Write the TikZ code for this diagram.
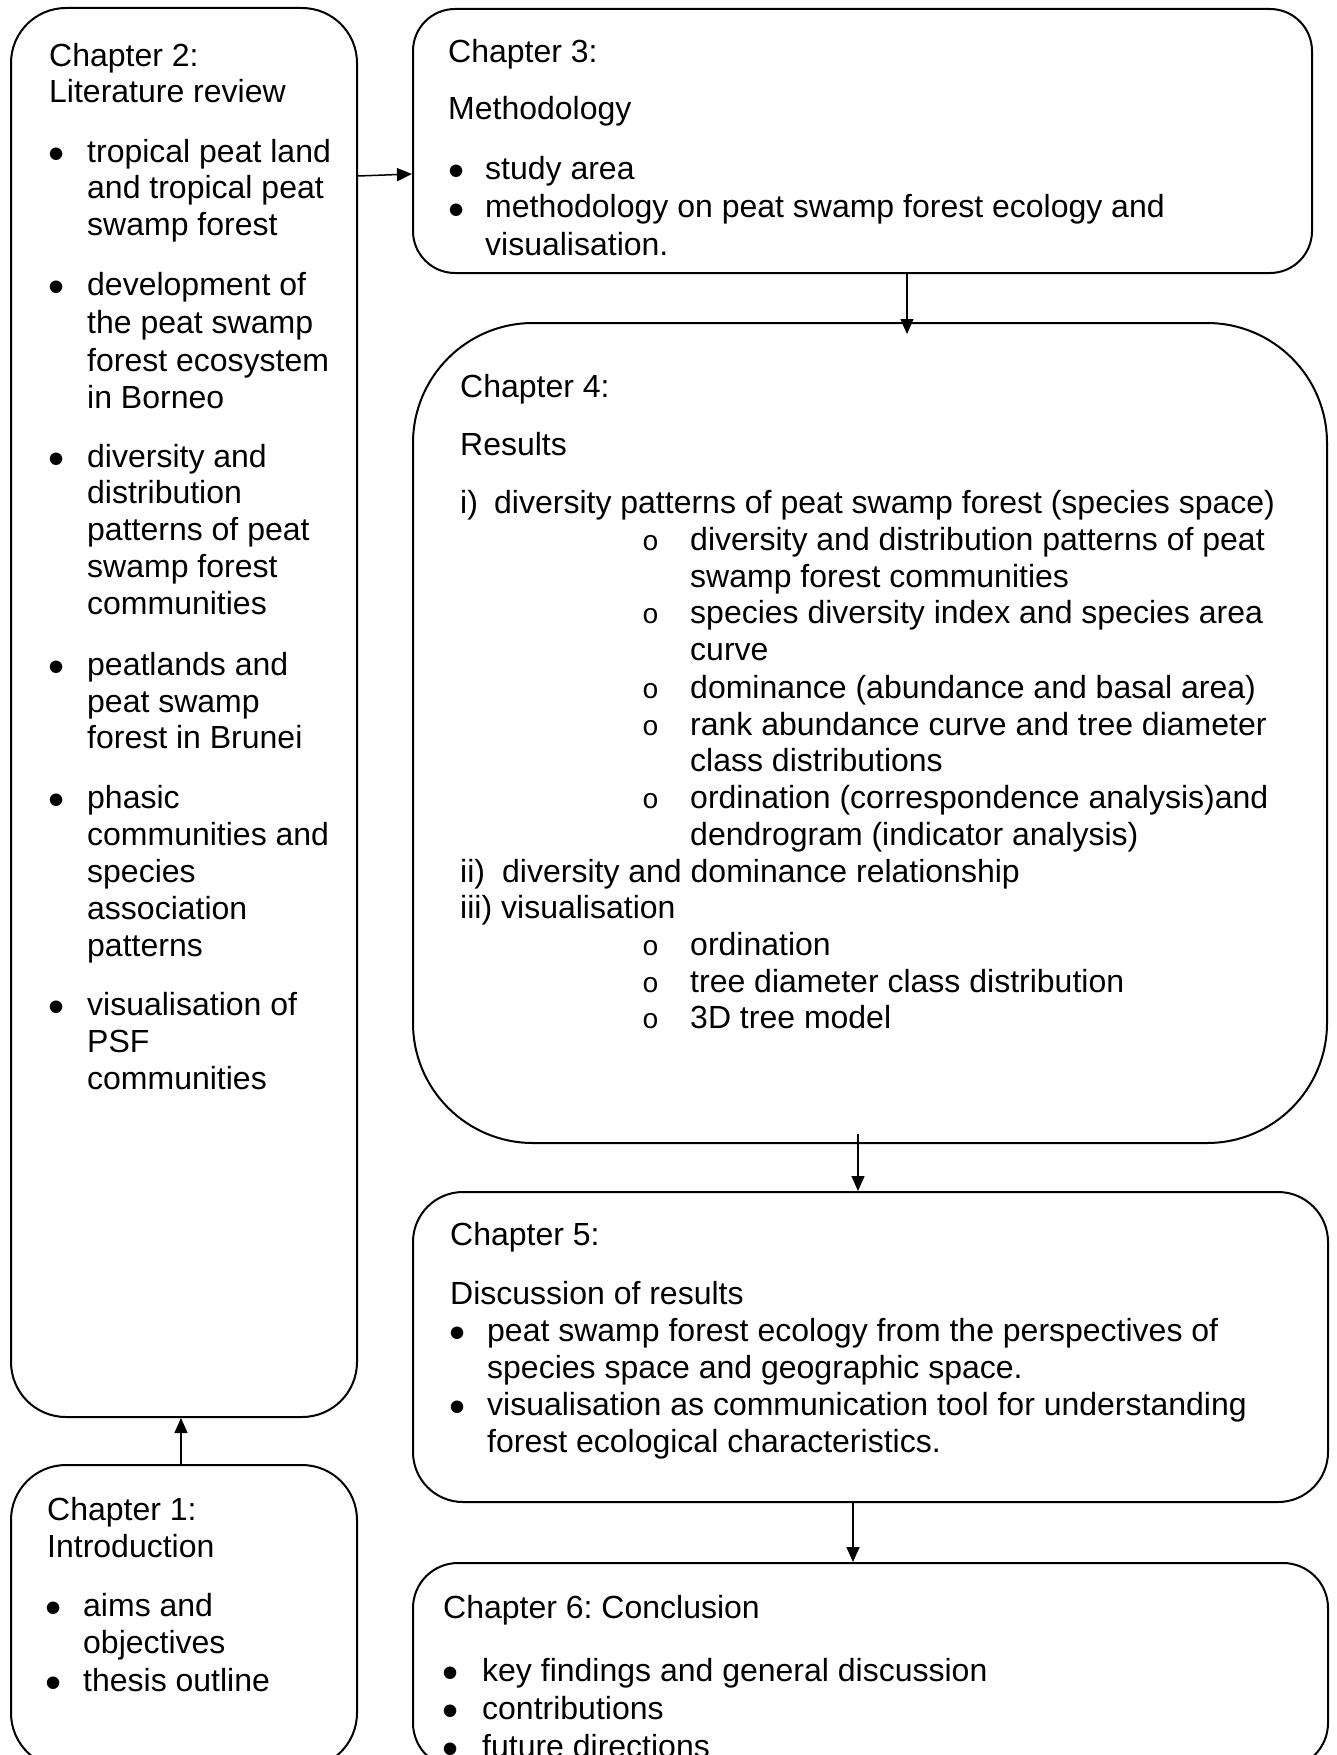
\documentclass[tikz,border=0pt]{standalone}
\usepackage{fontspec}
\setmainfont{Liberation Sans}
\newfontfamily\ofont{Liberation Mono}
\usetikzlibrary{arrows.meta}
\begin{document}
\frenchspacing
\begin{tikzpicture}[x=1pt,y=-1pt,
  box/.style={draw, line width=2pt, rectangle, inner sep=0pt},
  txt/.style={anchor=base west, inner sep=0pt, font=\fontsize{32}{37}\selectfont\frenchspacing},
  bul/.style={anchor=base west, inner sep=0pt, font=\fontsize{46}{46}\selectfont},
  sub/.style={anchor=base west, inner sep=0pt, font=\ofont\fontsize{28}{28}\selectfont},
  arr/.style={line width=1.5pt, -{Triangle[length=15pt,width=13pt]}}]
\useasboundingbox (0,0) rectangle (1336,1755);
\fill[white] (0,0) rectangle (1336,1755);
\clip (0,0) rectangle (1336,1755);

% boxes
\node[box, rounded corners=55pt, minimum width=346pt, minimum height=1409pt] (ch2) at (184,712.5) {};
\node[box, rounded corners=55pt, minimum width=346pt, minimum height=303pt] (ch1) at (184,1616.5) {};
\node[box, rounded corners=42pt, minimum width=899pt, minimum height=264pt] (ch3) at (862.5,141) {};
\node[box, rounded corners=120pt, minimum width=914pt, minimum height=820pt] (ch4) at (870,733) {};
\node[box, rounded corners=50pt, minimum width=915pt, minimum height=310pt] (ch5) at (870.5,1347) {};
\node[box, rounded corners=45pt, minimum width=915pt, minimum height=205pt] (ch6) at (870.5,1665.5) {};

% connectors
\draw[arr] ([yshift=-169pt]ch2.north east) -- ([yshift=-166pt]ch3.north west);
\draw[arr] ([xshift=44.5pt]ch3.south) -- ([xshift=37pt,yshift=-12pt]ch4.north);
\draw[arr] ([xshift=-12pt,yshift=10pt]ch4.south) -- ([xshift=-12.5pt]ch5.north);
\draw[arr] ([xshift=-17.5pt]ch5.south) -- ([xshift=-17.5pt]ch6.north);
\draw[arr] ([xshift=-3pt]ch1.north) -- ([xshift=-3pt]ch2.south);

% Chapter 2
\node[txt] (c2h1) at (49,67) {Chapter 2:};
\node[txt] (c2h2) at (49,103) {Literature review};
\foreach \yy [count=\i] in {163,295,467,675,808,1015}
  \node[bul] (c2b\i) at (48,\yy+7) {•};
\foreach \yy/\tt [count=\i] in {163/tropical peat land, 199/and tropical peat, 235/swamp forest,
  295/development of, 333/the peat swamp, 371/forest ecosystem, 408/in Borneo,
  467/diversity and, 503/distribution, 540/patterns of peat, 577/swamp forest, 614/communities,
  675/peatlands and, 712/peat swamp, 748/forest in Brunei,
  808/phasic, 845/communities and, 882/species, 919/association, 956/patterns,
  1015/visualisation of, 1052/PSF, 1089/communities}
  \node[txt] (c2l\i) at (87,\yy) {\tt};

% Chapter 1
\node[txt] (c1h1) at (47,1520) {Chapter 1:};
\node[txt] (c1h2) at (47,1557) {Introduction};
\node[bul] (c1b1) at (45,1623) {•};
\node[bul] (c1b2) at (45,1698) {•};
\node[txt] (c1l1) at (83,1616) {aims and};
\node[txt] (c1l2) at (83,1653) {objectives};
\node[txt] (c1l3) at (83,1691) {thesis outline};

% Chapter 3
\node[txt] (c3h1) at (448,63) {Chapter 3:};
\node[txt] (c3h2) at (448,120) {Methodology};
\node[bul] (c3b1) at (448,187) {•};
\node[bul] (c3b2) at (448,225) {•};
\node[txt] (c3l1) at (485,180) {study area};
\node[txt] (c3l2) at (485,218) {methodology on peat swamp forest ecology and};
\node[txt] (c3l3) at (485,255) {visualisation.};

% Chapter 4
\node[txt] (c4h1) at (460,397) {Chapter 4:};
\node[txt] (c4h2) at (460,455) {Results};
\node[txt] (c4n1) at (460,513) {i)};
\node[txt] (c4t1) at (494,513) {diversity patterns of peat swamp forest (species space)};
\node[txt] (c4n2) at (460,882) {ii)};
\node[txt] (c4t2) at (502,882) {diversity and dominance relationship};
\node[txt] (c4n3) at (460,918) {iii)};
\node[txt] (c4t3) at (501,918) {visualisation};
\foreach \yy [count=\i] in {550,623,698,735,808,955,992,1028}
  \node[sub] (c4o\i) at (642,\yy) {o};
\foreach \yy/\tt [count=\i] in {550/diversity and distribution patterns of peat,
  587/swamp forest communities, 623/species diversity index and species area, 660/curve,
  698/{dominance (abundance and basal area)}, 735/rank abundance curve and tree diameter,
  771/class distributions, 808/{ordination (correspondence analysis)and},
  845/{dendrogram (indicator analysis)}, 955/ordination,
  992/tree diameter class distribution, 1028/3D tree model}
  \node[txt] (c4l\i) at (690,\yy) {\tt};

% Chapter 5
\node[txt] (c5h1) at (450,1245) {Chapter 5:};
\node[txt] (c5h2) at (450,1304) {Discussion of results};
\node[bul] (c5b1) at (449,1348) {•};
\node[bul] (c5b2) at (449,1422) {•};
\node[txt] (c5l1) at (487,1341) {peat swamp forest ecology from the perspectives of};
\node[txt] (c5l2) at (487,1378) {species space and geographic space.};
\node[txt] (c5l3) at (487,1415) {visualisation as communication tool for understanding};
\node[txt] (c5l4) at (487,1452) {forest ecological characteristics.};

% Chapter 6
\node[txt] (c6h1) at (443,1618) {Chapter 6: Conclusion};
\node[bul] (c6b1) at (442,1688) {•};
\node[bul] (c6b2) at (442,1726) {•};
\node[bul] (c6b3) at (442,1764) {•};
\node[txt] (c6l1) at (482,1681) {key findings and general discussion};
\node[txt] (c6l2) at (482,1719) {contributions};
\node[txt] (c6l3) at (482,1757) {future directions};
\end{tikzpicture}
\end{document}
